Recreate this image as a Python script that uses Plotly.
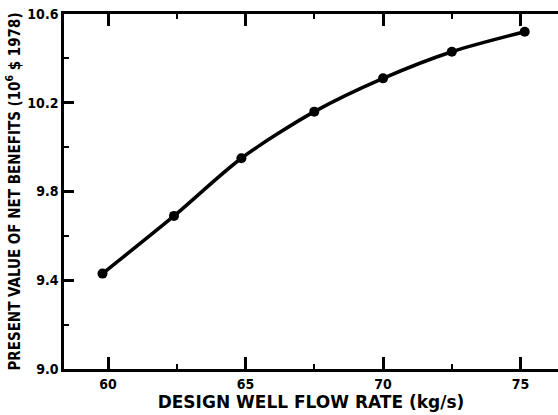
import plotly.graph_objects as go

# Design well flow rate (kg/s) and present value of net benefits (10^6 $ 1978)
flow_rate = [59.8, 62.4, 64.85, 67.5, 70.0, 72.5, 75.15]
net_benefit = [9.43, 9.69, 9.95, 10.16, 10.31, 10.43, 10.52]

x_tick_step = 5
y_tick_step = 0.4

tick_font = dict(family="DejaVu Sans Condensed, DejaVu Sans, sans-serif", size=14, color="black", weight="bold")
x_title_font = dict(family="DejaVu Sans, sans-serif", size=17, color="black", weight="bold")
y_title_font = dict(family="DejaVu Sans Condensed, DejaVu Sans, sans-serif", size=15, color="black", weight="bold")

fig = go.Figure()
fig.add_trace(go.Scatter(
    x=flow_rate, y=net_benefit,
    mode="lines+markers",
    line=dict(color="black", width=3.5, shape="spline", smoothing=0.8),
    marker=dict(color="black", size=10),
    hoverinfo="skip",
))

fig.update_layout(
    width=558, height=415,
    margin=dict(l=64, r=0, t=14, b=46),
    plot_bgcolor="white", paper_bgcolor="white",
    showlegend=False,
)

fig.update_xaxes(
    range=[58.4, 76.36],
    tickmode="linear", tick0=60, dtick=x_tick_step,
    ticks="inside", ticklen=12, tickwidth=2.5, tickcolor="black",
    minor=dict(dtick=x_tick_step / 2, ticks="inside", ticklen=5, tickwidth=2, tickcolor="black"),
    showline=True, linecolor="black", linewidth=2.5, mirror="allticks",
    showgrid=False, zeroline=False,
    tickfont=tick_font,
    title=dict(text="DESIGN WELL FLOW RATE (kg/s)", font=x_title_font, standoff=5),
)

fig.update_yaxes(
    range=[9.0, 10.6],
    tickmode="linear", tick0=9.0, dtick=y_tick_step, tickformat=".1f",
    ticks="inside", ticklen=10, tickwidth=2.5, tickcolor="black",
    minor=dict(dtick=y_tick_step / 2, ticks="inside", ticklen=5, tickwidth=2, tickcolor="black"),
    showline=True, linecolor="black", linewidth=2.5,
    showgrid=False, zeroline=False,
    tickfont=tick_font,
    title=dict(text="PRESENT VALUE OF NET BENEFITS (10<sup>6</sup> $ 1978)", font=y_title_font, standoff=4),
)

fig.write_html("out.html")
